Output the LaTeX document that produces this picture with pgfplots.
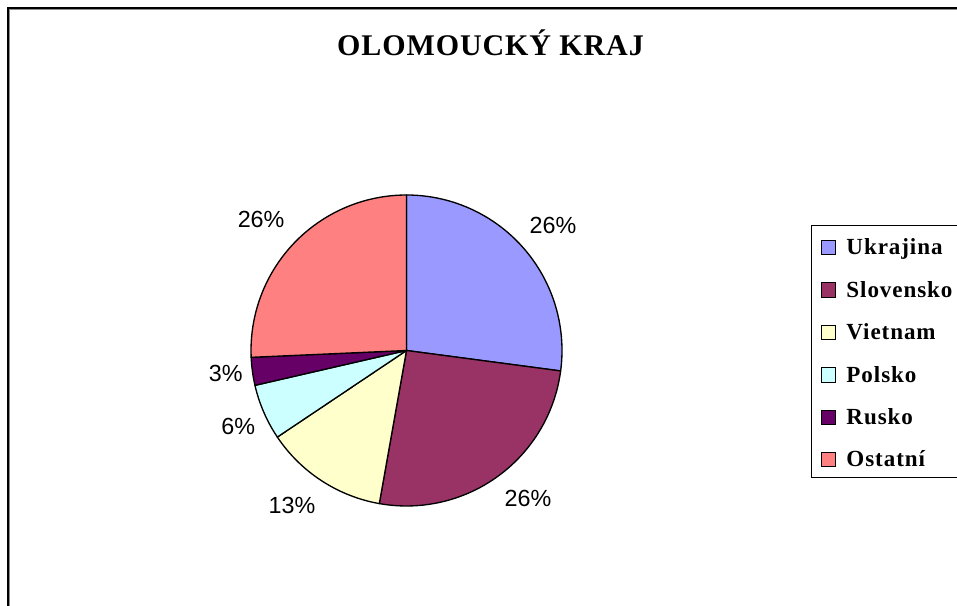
\documentclass[border=0pt]{standalone}
\usepackage{fontspec}
\setmainfont{Liberation Serif}
\newfontfamily\arialf{Liberation Sans}
\usepackage{pgfplots}
\usepackage{pgfplotstable}
\pgfplotsset{compat=1.18}

\definecolor{pie0}{HTML}{9999FF}
\definecolor{pie1}{HTML}{993366}
\definecolor{pie2}{HTML}{FFFFCC}
\definecolor{pie3}{HTML}{CCFFFF}
\definecolor{pie4}{HTML}{660066}
\definecolor{pie5}{HTML}{FF8080}

% name, share (%), shown label, label radius (x pie radius), label angle offset
\pgfplotstableread[col sep=comma]{
name,value,label,lr,da
Ukrajina,27.1,26,1.237,-0.8
Slovensko,25.7,26,1.229,3.3
Vietnam,12.8,13,1.237,-3.4
Polsko,5.8,6,1.186,0.8
Rusko,2.9,3,1.172,-0.6
Ostatní,25.7,26,1.257,1.8
}\piedata

% pie geometry in pixel units of the axis
\def\cx{406.5}
\def\cy{255.5}
\def\rr{155.5}

\xdef\cum{90}
\pgfplotsforeachungrouped \i in {0,...,5}{%
  \pgfplotstablegetelem{\i}{value}\of\piedata \let\v\pgfplotsretval
  \pgfplotstablegetelem{\i}{lr}\of\piedata \let\lr\pgfplotsretval
  \pgfplotstablegetelem{\i}{da}\of\piedata \let\da\pgfplotsretval
  \pgfplotstablegetelem{\i}{label}\of\piedata \let\lab\pgfplotsretval
  \pgfmathsetmacro\e{\cum-3.6*\v}%
  \pgfmathsetmacro\m{(\cum+\e)/2+\da}%
  \pgfmathsetmacro\sx{\cx+\rr*cos(\cum)}%
  \pgfmathsetmacro\sy{\cy+\rr*sin(\cum)}%
  \pgfmathsetmacro\lx{\cx+\lr*\rr*cos(\m)}%
  \pgfmathsetmacro\ly{\cy+\lr*\rr*sin(\m)}%
  \expandafter\xdef\csname pS\i\endcsname{\cum}%
  \expandafter\xdef\csname pE\i\endcsname{\e}%
  \expandafter\xdef\csname pX\i\endcsname{\sx}%
  \expandafter\xdef\csname pY\i\endcsname{\sy}%
  \expandafter\xdef\csname pLX\i\endcsname{\lx}%
  \expandafter\xdef\csname pLY\i\endcsname{\ly}%
  \expandafter\xdef\csname pL\i\endcsname{\lab}%
  \xdef\cum{\e}%
}

\begin{document}
\begin{tikzpicture}
\useasboundingbox (0,0) rectangle (717.75pt,454.5pt);
\clip (0,0) rectangle (717.75pt,454.5pt);
\begin{axis}[
  at={(0,0)}, anchor=south west,
  scale only axis, width=717.75pt, height=454.5pt,
  xmin=0, xmax=957, ymin=0, ymax=606,
  hide axis, clip=false,
  legend image code/.code={\draw[#1, line width=0.75pt] (0pt,0pt) rectangle (10.7pt,10.7pt);},
  legend cell align=left,
  legend style={
    at={(0.8474,0.6287)}, anchor=north west,
    draw=black, line width=0.75pt,
    inner xsep=7.3pt, inner ysep=2pt,
    row sep=5.55pt, column sep=7.5pt,
    font=\bfseries\fontsize{17.3}{20}\selectfont\addfontfeatures{LetterSpace=4},
    nodes={inner sep=0pt, text height=20pt, text depth=6.25pt, anchor=base west},
  },
]
\addplot[draw=none, forget plot] coordinates {(0,0)};

% frame of the chart area
\draw[black!45, line width=0.75pt] (axis cs:9,-20) -- (axis cs:9,596.5) -- (axis cs:990,596.5);
\draw[line width=1.5pt] (axis cs:8,-20) -- (axis cs:8,598) -- (axis cs:990,598);

% title
\node[font=\bfseries\fontsize{22.5}{26}\selectfont\addfontfeatures{LetterSpace=3}, anchor=base] at (axis cs:490.5,550) {OLOMOUCKÝ KRAJ};

% pie slices
\pgfplotsinvokeforeach{0,...,5}{
  \filldraw[fill=pie#1, draw=black, line width=1pt, line join=round]
    (axis cs:\cx,\cy) -- (axis cs:\csname pX#1\endcsname,\csname pY#1\endcsname)
    arc[start angle=\csname pS#1\endcsname, end angle=\csname pE#1\endcsname, radius=116.625pt] -- cycle;
  \node[font=\arialf\fontsize{17.5}{20}\selectfont]
    at (axis cs:\csname pLX#1\endcsname,\csname pLY#1\endcsname) {\csname pL#1\endcsname\%};
}

\addlegendimage{fill=pie0, draw=black}
\addlegendentry{\makebox[95pt][l]{Ukrajina}}
\addlegendimage{fill=pie1, draw=black}
\addlegendentry{\makebox[95pt][l]{Slovensko}}
\addlegendimage{fill=pie2, draw=black}
\addlegendentry{\makebox[95pt][l]{Vietnam}}
\addlegendimage{fill=pie3, draw=black}
\addlegendentry{\makebox[95pt][l]{Polsko}}
\addlegendimage{fill=pie4, draw=black}
\addlegendentry{\makebox[95pt][l]{Rusko}}
\addlegendimage{fill=pie5, draw=black}
\addlegendentry{\makebox[95pt][l]{Ostatní}}
\end{axis}
\end{tikzpicture}
\end{document}
